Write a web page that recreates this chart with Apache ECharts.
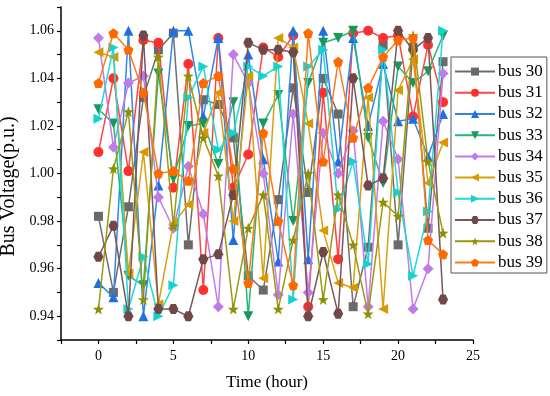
<!DOCTYPE html>
<html>
<head>
<meta charset="utf-8">
<script src="https://cdn.jsdelivr.net/npm/echarts@6/dist/echarts.min.js"></script>
<style>html,body{margin:0;padding:0;background:#fff}#c{width:550px;height:396px}</style>
</head>
<body>
<div id="c"></div>
<script>
var hours = [0,1,2,3,4,5,6,7,8,9,10,11,12,13,14,15,16,17,18,19,20,21,22,23];
var seriesNames = ['bus 30','bus 31','bus 32','bus 33','bus 34','bus 35','bus 36','bus 37','bus 38','bus 39'];
var bus30 = [0.982,0.950,0.986,1.032,1.052,1.059,0.970,1.031,1.029,1.015,0.957,0.951,0.989,1.036,0.992,1.040,1.025,0.944,0.969,1.054,0.970,1.053,0.977,1.047];
var bus31 = [1.009,1.040,1.001,1.056,1.055,0.994,1.046,0.951,1.057,0.994,1.008,1.053,1.049,1.058,0.944,1.034,0.964,1.059,1.060,1.057,1.058,1.024,1.054,1.030];
var bus32 = [0.954,0.948,1.060,0.940,0.995,1.060,1.060,1.024,1.057,0.972,1.050,1.006,0.963,1.060,0.964,1.060,1.005,1.057,1.020,1.046,1.022,1.023,1.007,1.025];
var bus33 = [1.027,1.021,0.957,0.953,1.042,0.998,1.020,1.021,1.004,1.030,0.940,1.021,1.033,0.980,1.038,1.055,1.057,1.060,1.015,0.996,1.045,1.038,1.043,1.058];
var bus34 = [1.057,1.011,1.038,1.041,0.990,0.977,1.003,0.983,0.944,1.050,1.038,1.000,0.949,1.025,0.950,1.017,1.000,1.018,0.944,1.022,1.006,0.943,0.960,1.042];
var bus35 = [1.051,1.049,0.958,1.009,0.945,0.979,0.987,1.017,1.034,0.980,1.041,0.956,1.057,1.053,1.021,0.976,0.954,0.952,1.032,0.943,1.035,1.048,0.996,1.013];
var bus36 = [1.023,1.053,0.943,0.965,0.940,0.953,1.032,1.045,1.010,1.017,1.045,1.041,1.045,0.947,1.045,1.052,0.985,1.005,0.962,1.052,0.992,0.957,0.984,1.060];
var bus37 = [0.965,0.978,0.940,1.058,0.943,0.943,0.940,0.964,0.966,0.991,1.055,1.052,1.052,1.051,0.940,0.967,0.941,1.040,0.995,0.998,1.060,1.052,1.057,0.947];
var bus38 = [0.943,1.002,1.026,0.947,1.049,0.978,1.041,1.015,0.999,0.943,0.977,0.991,0.943,0.972,1.000,0.947,0.991,0.970,0.941,0.988,0.982,1.058,1.005,0.975];
var bus39 = [1.038,1.059,1.052,1.034,1.000,1.001,0.997,1.038,1.041,1.002,0.954,1.017,0.980,0.953,1.059,1.005,1.047,1.015,1.036,1.049,1.056,1.057,0.972,0.966];
var xTickLabels = ['0','5','10','15','20','25'];
var yTickLabels = ['0.94','0.96','0.98','1.00','1.02','1.04','1.06'];

var allValues = [bus30,bus31,bus32,bus33,bus34,bus35,bus36,bus37,bus38,bus39];
var lineColors = ['#6e6e6e','#ff4444','#2f86e8','#22b87a','#c27ae8','#d9a010','#20d8d8','#7a5656','#9a9a12','#ff7a1a'];
var markColors = ['#6a6a6a','#ff3030','#1f6fe0','#169a5c','#c07be8','#d69a00','#18d0d0','#704848','#8f8f00','#ff6a00'];
var symbols = [
  'rect',
  'circle',
  'triangle',
  'path://M0,0 L10,0 L5,9 Z',
  'diamond',
  'path://M0,5 L9,0 L9,10 Z',
  'path://M9,5 L0,0 L0,10 Z',
  'path://M2.5,0 L7.5,0 L10,4.33 L7.5,8.66 L2.5,8.66 L0,4.33 Z',
  'path://M50,0 L61.76,33.82 L97.55,34.55 L69.02,56.18 L79.39,90.45 L50,70 L20.61,90.45 L30.98,56.18 L2.45,34.55 L38.24,33.82 Z',
  'path://M50,0 L97.55,34.55 L79.39,90.45 L20.61,90.45 L2.45,34.55 Z'
];
var sizes = [9,10,10,10,11,10,10,10,11,10];

var FONT = 'Liberation Serif';
var series = allValues.map(function(vals, i){
  return {
    name: seriesNames[i],
    type: 'line',
    data: hours.map(function(h, k){ return [h, vals[k]]; }),
    symbol: symbols[i],
    symbolSize: sizes[i],
    lineStyle: {color: lineColors[i], width: 1.5},
    itemStyle: {color: markColors[i]},
    emphasis: {disabled: true},
    animation: false,
    z: 2 + i
  };
});

var chart = echarts.init(document.getElementById('c'), null, {renderer: 'canvas'});
chart.setOption({
  backgroundColor: '#fff',
  animation: false,
  grid: {left: 61, right: 77, top: 7, bottom: 56, containLabel: false, outerBoundsMode: 'none'},
  legend: {
    orient: 'vertical',
    left: 451, top: 57,
    width: 96,
    padding: [6, 4, 2, 3],
    itemWidth: 40, itemHeight: 10, itemGap: 4,
    borderColor: '#555', borderWidth: 1,
    backgroundColor: '#fff',
    textStyle: {fontFamily: FONT, fontSize: 17, color: '#000', lineHeight: 17.2, padding: [0,0,0,-2]},
    data: seriesNames
  },
  xAxis: {
    type: 'value', min: -2.5, max: 25, interval: 2.5,
    name: 'Time (hour)', nameLocation: 'middle', nameGap: 34,
    nameTextStyle: {fontFamily: FONT, fontSize: 17, color: '#000'},
    axisLine: {show: true, onZero: false, lineStyle: {color: '#000', width: 1.5}},
    axisTick: {show: true, inside: false, length: 4, lineStyle: {color: '#000', width: 1.2}},
    axisLabel: {fontFamily: FONT, fontSize: 14, color: '#000', margin: 9,
      formatter: function(v){ var s = String(Math.round(v)); return (Math.abs(v % 5) < 1e-9 && xTickLabels.indexOf(s) >= 0) ? s : ''; }},
    splitLine: {show: false}
  },
  yAxis: {
    type: 'value', min: 0.93, max: 1.07, interval: 0.01,
    name: 'Bus Voltage(p.u.)', nameLocation: 'middle', nameGap: 37,
    nameTextStyle: {fontFamily: FONT, fontSize: 20, color: '#000', padding: [0, 26, 0, 0]},
    axisLine: {show: true, onZero: false, lineStyle: {color: '#000', width: 1.5}},
    axisTick: {show: true, inside: false, length: 4, lineStyle: {color: '#000', width: 1.2}},
    axisLabel: {fontFamily: FONT, fontSize: 14, color: '#000', margin: 7,
      formatter: function(v){ var s = v.toFixed(2); return yTickLabels.indexOf(s) >= 0 ? s : ''; }},
    splitLine: {show: false}
  },
  series: series
});
</script>
</body>
</html>
